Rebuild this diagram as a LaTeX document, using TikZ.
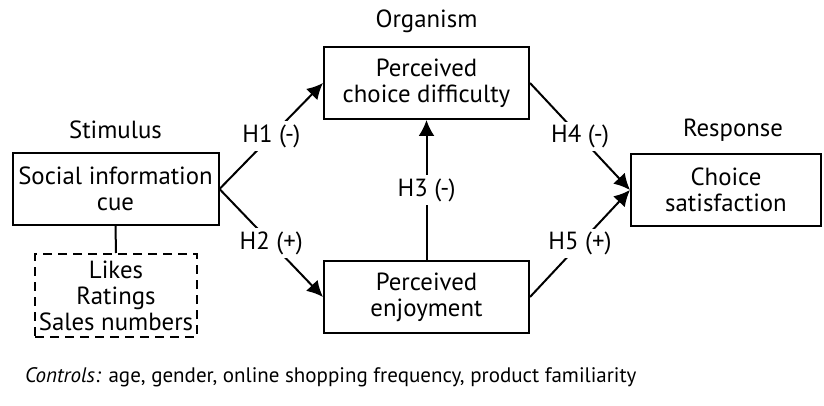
\documentclass[tikz,border=0pt]{standalone}
\usepackage{fontspec}
\setmainfont{PT Sans}
\usetikzlibrary{arrows.meta}
\begin{document}
\begin{tikzpicture}[x=0.5pt,y=-0.5pt,
  every node/.style={font=\fontsize{12.4}{13}\selectfont},
  box/.style={draw, line width=1pt, inner sep=0pt, align=center},
  link/.style={line width=1pt},
  arr/.style={link, -{Latex[length=8pt,width=8pt]}},
  hyp/.style={fill=white, inner sep=1.5pt}]
\useasboundingbox (0,0) rectangle (824,406);
% constructs
\node[box, minimum width=103pt, minimum height=36pt] (stim) at (115.5,189) {Social information\\cue};
\node[box, dash pattern=on 4.5pt off 3pt, minimum width=81pt, minimum height=41.5pt] (cues) at (116,295.5) {Likes\\Ratings\\Sales numbers};
\node[box, minimum width=102.5pt, minimum height=36pt] (diff) at (426.5,83) {Perceived\\choice difficulty};
\node[box, minimum width=102.5pt, minimum height=36pt] (enj) at (426.5,297) {Perceived\\enjoyment};
\node[box, minimum width=95pt, minimum height=36pt] (resp) at (726,190) {Choice\\satisfaction};
% stage labels
\node (lstim) at (115.5,130) {Stimulus};
\node (lorg) at (426.5,21) {Organism};
\node (lresp) at (733,130) {Response};
% paths
\draw[link] (stim.south) -- (cues.north);
\draw[arr] (stim.east) -- node[hyp] {H1 (-)} (diff.west);
\draw[arr] (stim.east) -- node[hyp] {H2 (+)} (enj.west);
\draw[arr] (enj.north) -- node[hyp] {H3 (-)} (diff.south);
\draw[arr] (diff.east) -- node[hyp] {H4 (-)} (resp.west);
\draw[arr] (enj.east) -- node[hyp] {H5 (+)} (resp.west);
% controls note
\node[anchor=west, font=\fontsize{10.5}{12}\selectfont] (ctrl) at (18,377) {\textit{Controls:} age, gender, online shopping frequency, product familiarity};
\end{tikzpicture}
\end{document}
